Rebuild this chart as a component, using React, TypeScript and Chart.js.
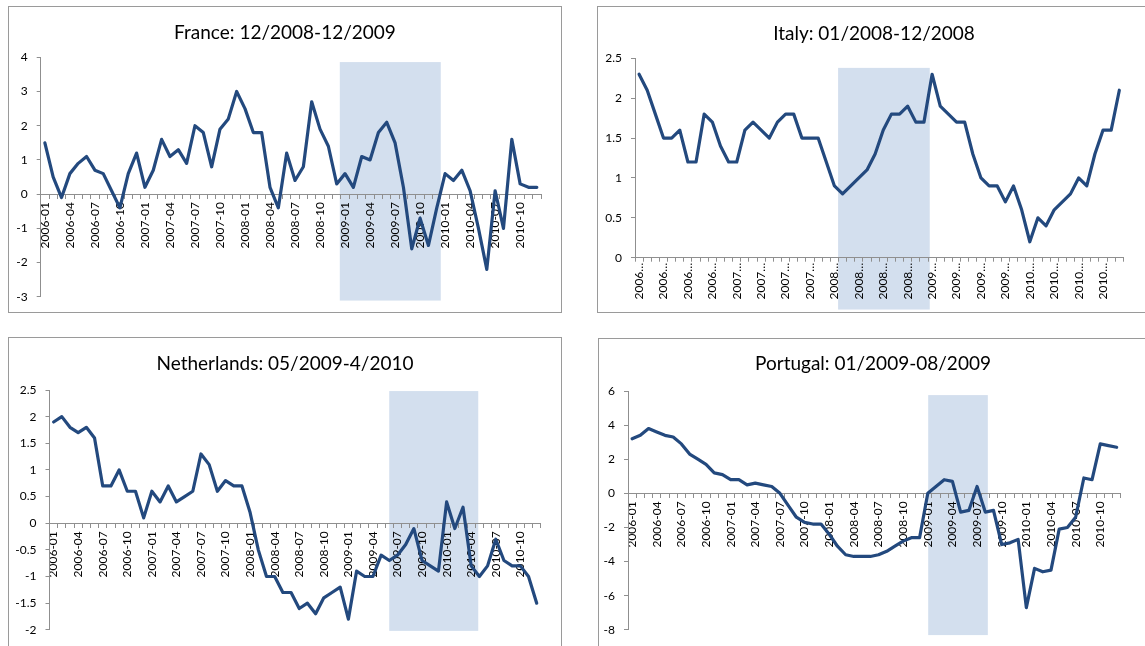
import React, { useEffect, useRef } from "react";
import { Chart, registerables } from "chart.js";

Chart.register(...registerables);

// ---------- DATA ----------
const months = [
  "2006-01", "2006-02", "2006-03", "2006-04", "2006-05", "2006-06", "2006-07", "2006-08", "2006-09", "2006-10", "2006-11", "2006-12",
  "2007-01", "2007-02", "2007-03", "2007-04", "2007-05", "2007-06", "2007-07", "2007-08", "2007-09", "2007-10", "2007-11", "2007-12",
  "2008-01", "2008-02", "2008-03", "2008-04", "2008-05", "2008-06", "2008-07", "2008-08", "2008-09", "2008-10", "2008-11", "2008-12",
  "2009-01", "2009-02", "2009-03", "2009-04", "2009-05", "2009-06", "2009-07", "2009-08", "2009-09", "2009-10", "2009-11", "2009-12",
  "2010-01", "2010-02", "2010-03", "2010-04", "2010-05", "2010-06", "2010-07", "2010-08", "2010-09", "2010-10", "2010-11", "2010-12",
];

const franceValues = [
  1.5, 0.5, -0.1, 0.6, 0.9, 1.1, 0.7, 0.6, 0.1, -0.4,
  0.6, 1.2, 0.2, 0.7, 1.6, 1.1, 1.3, 0.9, 2.0, 1.8,
  0.8, 1.9, 2.2, 3.0, 2.5, 1.8, 1.8, 0.2, -0.4, 1.2,
  0.4, 0.8, 2.7, 1.9, 1.4, 0.3, 0.6, 0.2, 1.1, 1.0,
  1.8, 2.1, 1.5, 0.2, -1.6, -0.7, -1.5, -0.4, 0.6, 0.4,
  0.7, 0.1, -1.0, -2.2, 0.1, -1.0, 1.6, 0.3, 0.2, 0.2,
];

const italyValues = [
  2.3, 2.1, 1.8, 1.5, 1.5, 1.6, 1.2, 1.2, 1.8, 1.7,
  1.4, 1.2, 1.2, 1.6, 1.7, 1.6, 1.5, 1.7, 1.8, 1.8,
  1.5, 1.5, 1.5, 1.2, 0.9, 0.8, 0.9, 1.0, 1.1, 1.3,
  1.6, 1.8, 1.8, 1.9, 1.7, 1.7, 2.3, 1.9, 1.8, 1.7,
  1.7, 1.3, 1.0, 0.9, 0.9, 0.7, 0.9, 0.6, 0.2, 0.5,
  0.4, 0.6, 0.7, 0.8, 1.0, 0.9, 1.3, 1.6, 1.6, 2.1,
];

const netherlandsValues = [
  1.9, 2.0, 1.8, 1.7, 1.8, 1.6, 0.7, 0.7, 1.0, 0.6,
  0.6, 0.1, 0.6, 0.4, 0.7, 0.4, 0.5, 0.6, 1.3, 1.1,
  0.6, 0.8, 0.7, 0.7, 0.2, -0.5, -1.0, -1.0, -1.3, -1.3,
  -1.6, -1.5, -1.7, -1.4, -1.3, -1.2, -1.8, -0.9, -1.0, -1.0,
  -0.6, -0.7, -0.6, -0.4, -0.1, -0.7, -0.8, -0.9, 0.4, -0.1,
  0.3, -0.8, -1.0, -0.8, -0.3, -0.7, -0.8, -0.8, -1.0, -1.5,
];

const portugalValues = [
  3.2, 3.4, 3.8, 3.6, 3.4, 3.3, 2.9, 2.3, 2.0, 1.7,
  1.2, 1.1, 0.8, 0.8, 0.5, 0.6, 0.5, 0.4, 0.0, -0.7,
  -1.4, -1.7, -1.8, -1.8, -2.4, -3.1, -3.6, -3.7, -3.7, -3.7,
  -3.6, -3.4, -3.1, -2.8, -2.6, -2.6, 0.0, 0.4, 0.8, 0.7,
  -1.1, -1.0, 0.4, -1.1, -1.0, -3.0, -2.9, -2.7, -6.7, -4.4,
  -4.6, -4.5, -2.1, -2.0, -1.4, 0.9, 0.8, 2.9, 2.8, 2.7,
];

// Italy's axis shows truncated labels, one every quarter
const italyTickLabels = [
  "2006…", "2006…", "2006…", "2006…",
  "2007…", "2007…", "2007…", "2007…",
  "2008…", "2008…", "2008…", "2008…",
  "2009…", "2009…", "2009…", "2009…",
  "2010…", "2010…", "2010…", "2010…",
];

// shaded windows: [from category index, to category index, from value, to value]
const franceShade = [35.37, 47.48, -3.11, 3.86];
const italyShade = [24.45, 35.71, -0.65, 2.38];
const netherlandsShade = [40.99, 51.86, -2.02, 2.48];
const portugalShade = [36.05, 43.31, -8.31, 5.76];

// ---------- STYLE ----------
const LINE = "#23497e";
const SHADE = "#d3dfee";
const AXIS = "#8f8f8f";
const FONT = "Lato, 'Open Sans', sans-serif";

type PanelCfg = {
  title: string;
  values: number[];
  yMin: number;
  yMax: number;
  step: number;
  shade: number[];
  zeroAxis: boolean;
  tick: (i: number) => string;
  xPad: number;
  box: { left: number; top: number; width: number; height: number };
  canvas: { width: number; height: number };
  area: { left: number; top: number; right: number; bottom: number };
  titleY: number;
};

const panels: PanelCfg[] = [
  {
    title: "France: 12/2008-12/2009",
    values: franceValues,
    yMin: -3, yMax: 4, step: 1,
    shade: franceShade,
    zeroAxis: true,
    tick: (i) => months[i],
    xPad: 4,
    box: { left: 8, top: 6, width: 554, height: 307 },
    canvas: { width: 554, height: 307 },
    area: { left: 32.7, top: 51.3, right: 533, bottom: 294 },
    titleY: 25.7,
  },
  {
    title: "Italy: 01/2008-12/2008",
    values: italyValues,
    yMin: 0, yMax: 2.5, step: 0.5,
    shade: italyShade,
    zeroAxis: false,
    tick: (i) => italyTickLabels[Math.floor(i / 3)],
    xPad: 1,
    box: { left: 597, top: 6, width: 554, height: 307 },
    canvas: { width: 548, height: 307 },
    area: { left: 38, top: 52.3, right: 526.4, bottom: 251.7 },
    titleY: 27,
  },
  {
    title: "Netherlands: 05/2009-4/2010",
    values: netherlandsValues,
    yMin: -2, yMax: 2.5, step: 0.5,
    shade: netherlandsShade,
    zeroAxis: true,
    tick: (i) => months[i],
    xPad: 4,
    box: { left: 8, top: 337, width: 554, height: 330 },
    canvas: { width: 554, height: 309 },
    area: { left: 41.5, top: 53, right: 532.8, bottom: 295.7 },
    titleY: 26,
  },
  {
    title: "Portugal: 01/2009-08/2009",
    values: portugalValues,
    yMin: -8, yMax: 6, step: 2,
    shade: portugalShade,
    zeroAxis: true,
    tick: (i) => months[i],
    xPad: 4,
    box: { left: 598, top: 338, width: 550, height: 330 },
    canvas: { width: 547, height: 308 },
    area: { left: 30, top: 53, right: 522.8, bottom: 294.7 },
    titleY: 25,
  },
];

function Panel({ cfg }: { cfg: PanelCfg }) {
  const ref = useRef<HTMLCanvasElement>(null);

  useEffect(() => {
    const canvas = ref.current;
    if (!canvas) return;
    const xh = cfg.zeroAxis ? 0 : cfg.canvas.height - cfg.area.bottom;
    const bottomPad = cfg.zeroAxis ? cfg.canvas.height - cfg.area.bottom : 0;

    const shadePlugin = {
      id: "shadeBox",
      beforeDraw(chart: any) {
        const xs = chart.scales.x;
        const ys = chart.scales.y;
        const p0 = xs.getPixelForValue(0);
        const stepPx = xs.getPixelForValue(1) - p0;
        const [i0, i1, v0, v1] = cfg.shade;
        const x0 = p0 + i0 * stepPx;
        const x1 = p0 + i1 * stepPx;
        const yTop = ys.getPixelForValue(v1);
        const yBot = ys.getPixelForValue(v0);
        const ctx = chart.ctx;
        ctx.save();
        ctx.fillStyle = SHADE;
        ctx.fillRect(x0, yTop, x1 - x0, yBot - yTop);
        ctx.restore();
      },
    };

    const chart = new Chart(canvas, {
      type: "line",
      data: {
        labels: months,
        datasets: [
          {
            data: cfg.values,
            borderColor: LINE,
            borderWidth: 3.2,
            pointRadius: 0,
            tension: 0,
            fill: false,
            borderJoinStyle: "round",
            borderCapStyle: "round",
          },
        ],
      },
      options: {
        animation: false,
        responsive: false,
        maintainAspectRatio: false,
        devicePixelRatio: 1,
        events: [],
        layout: {
          padding: {
            left: 0,
            top: cfg.area.top,
            right: cfg.canvas.width - cfg.area.right,
            bottom: bottomPad,
          },
        },
        plugins: {
          legend: { display: false },
          tooltip: { enabled: false },
          title: { display: false },
        },
        scales: {
          x: {
            type: "category",
            axis: "x",
            offset: true,
            position: cfg.zeroAxis ? { y: 0 } : "bottom",
            grid: {
              offset: true,
              drawOnChartArea: false,
              drawTicks: true,
              tickLength: 4,
              color: AXIS,
            },
            border: { display: true, color: AXIS, width: 1 },
            ticks: {
              autoSkip: false,
              maxRotation: 90,
              minRotation: 90,
              padding: cfg.xPad,
              color: "#000",
              font: { family: FONT, size: 12 },
              callback: (_v: any, i: number) => (i % 3 === 0 ? cfg.tick(i) : ""),
            },
            afterFit: (s: any) => {
              s.height = xh;
            },
          },
          y: {
            min: cfg.yMin,
            max: cfg.yMax,
            grid: {
              drawOnChartArea: false,
              drawTicks: true,
              tickLength: 4,
              color: AXIS,
            },
            border: { display: true, color: AXIS, width: 1 },
            ticks: {
              stepSize: cfg.step,
              padding: 9,
              color: "#000",
              font: { family: FONT, size: 12 },
              callback: (v: any) => String(Math.round(Number(v) * 10) / 10),
            },
            afterFit: (s: any) => {
              s.width = cfg.area.left;
            },
          },
        },
      } as any,
      plugins: [shadePlugin],
    });
    return () => chart.destroy();
  }, [cfg]);

  return (
    <div
      style={{
        position: "absolute",
        left: cfg.box.left,
        top: cfg.box.top,
        width: cfg.box.width,
        height: cfg.box.height,
        boxSizing: "border-box",
        border: "1px solid #9a9a9a",
        background: "#fff",
      }}
    >
      <canvas
        ref={ref}
        width={cfg.canvas.width}
        height={cfg.canvas.height}
        style={{
          position: "absolute",
          left: -1,
          top: -1,
          width: cfg.canvas.width,
          height: cfg.canvas.height,
        }}
      />
      <div
        style={{
          position: "absolute",
          left: -1,
          top: cfg.titleY - 12 - 1,
          width: cfg.box.width,
          height: 24,
          lineHeight: "24px",
          textAlign: "center",
          fontFamily: FONT,
          fontSize: 19,
          color: "#000",
          whiteSpace: "nowrap",
        }}
      >
        {cfg.title}
      </div>
    </div>
  );
}

export default function App() {
  return (
    <div
      style={{
        position: "absolute",
        left: 0,
        top: 0,
        width: 1145,
        height: 646,
        overflow: "hidden",
        background: "#fff",
      }}
    >
      {panels.map((p) => (
        <Panel key={p.title} cfg={p} />
      ))}
    </div>
  );
}
